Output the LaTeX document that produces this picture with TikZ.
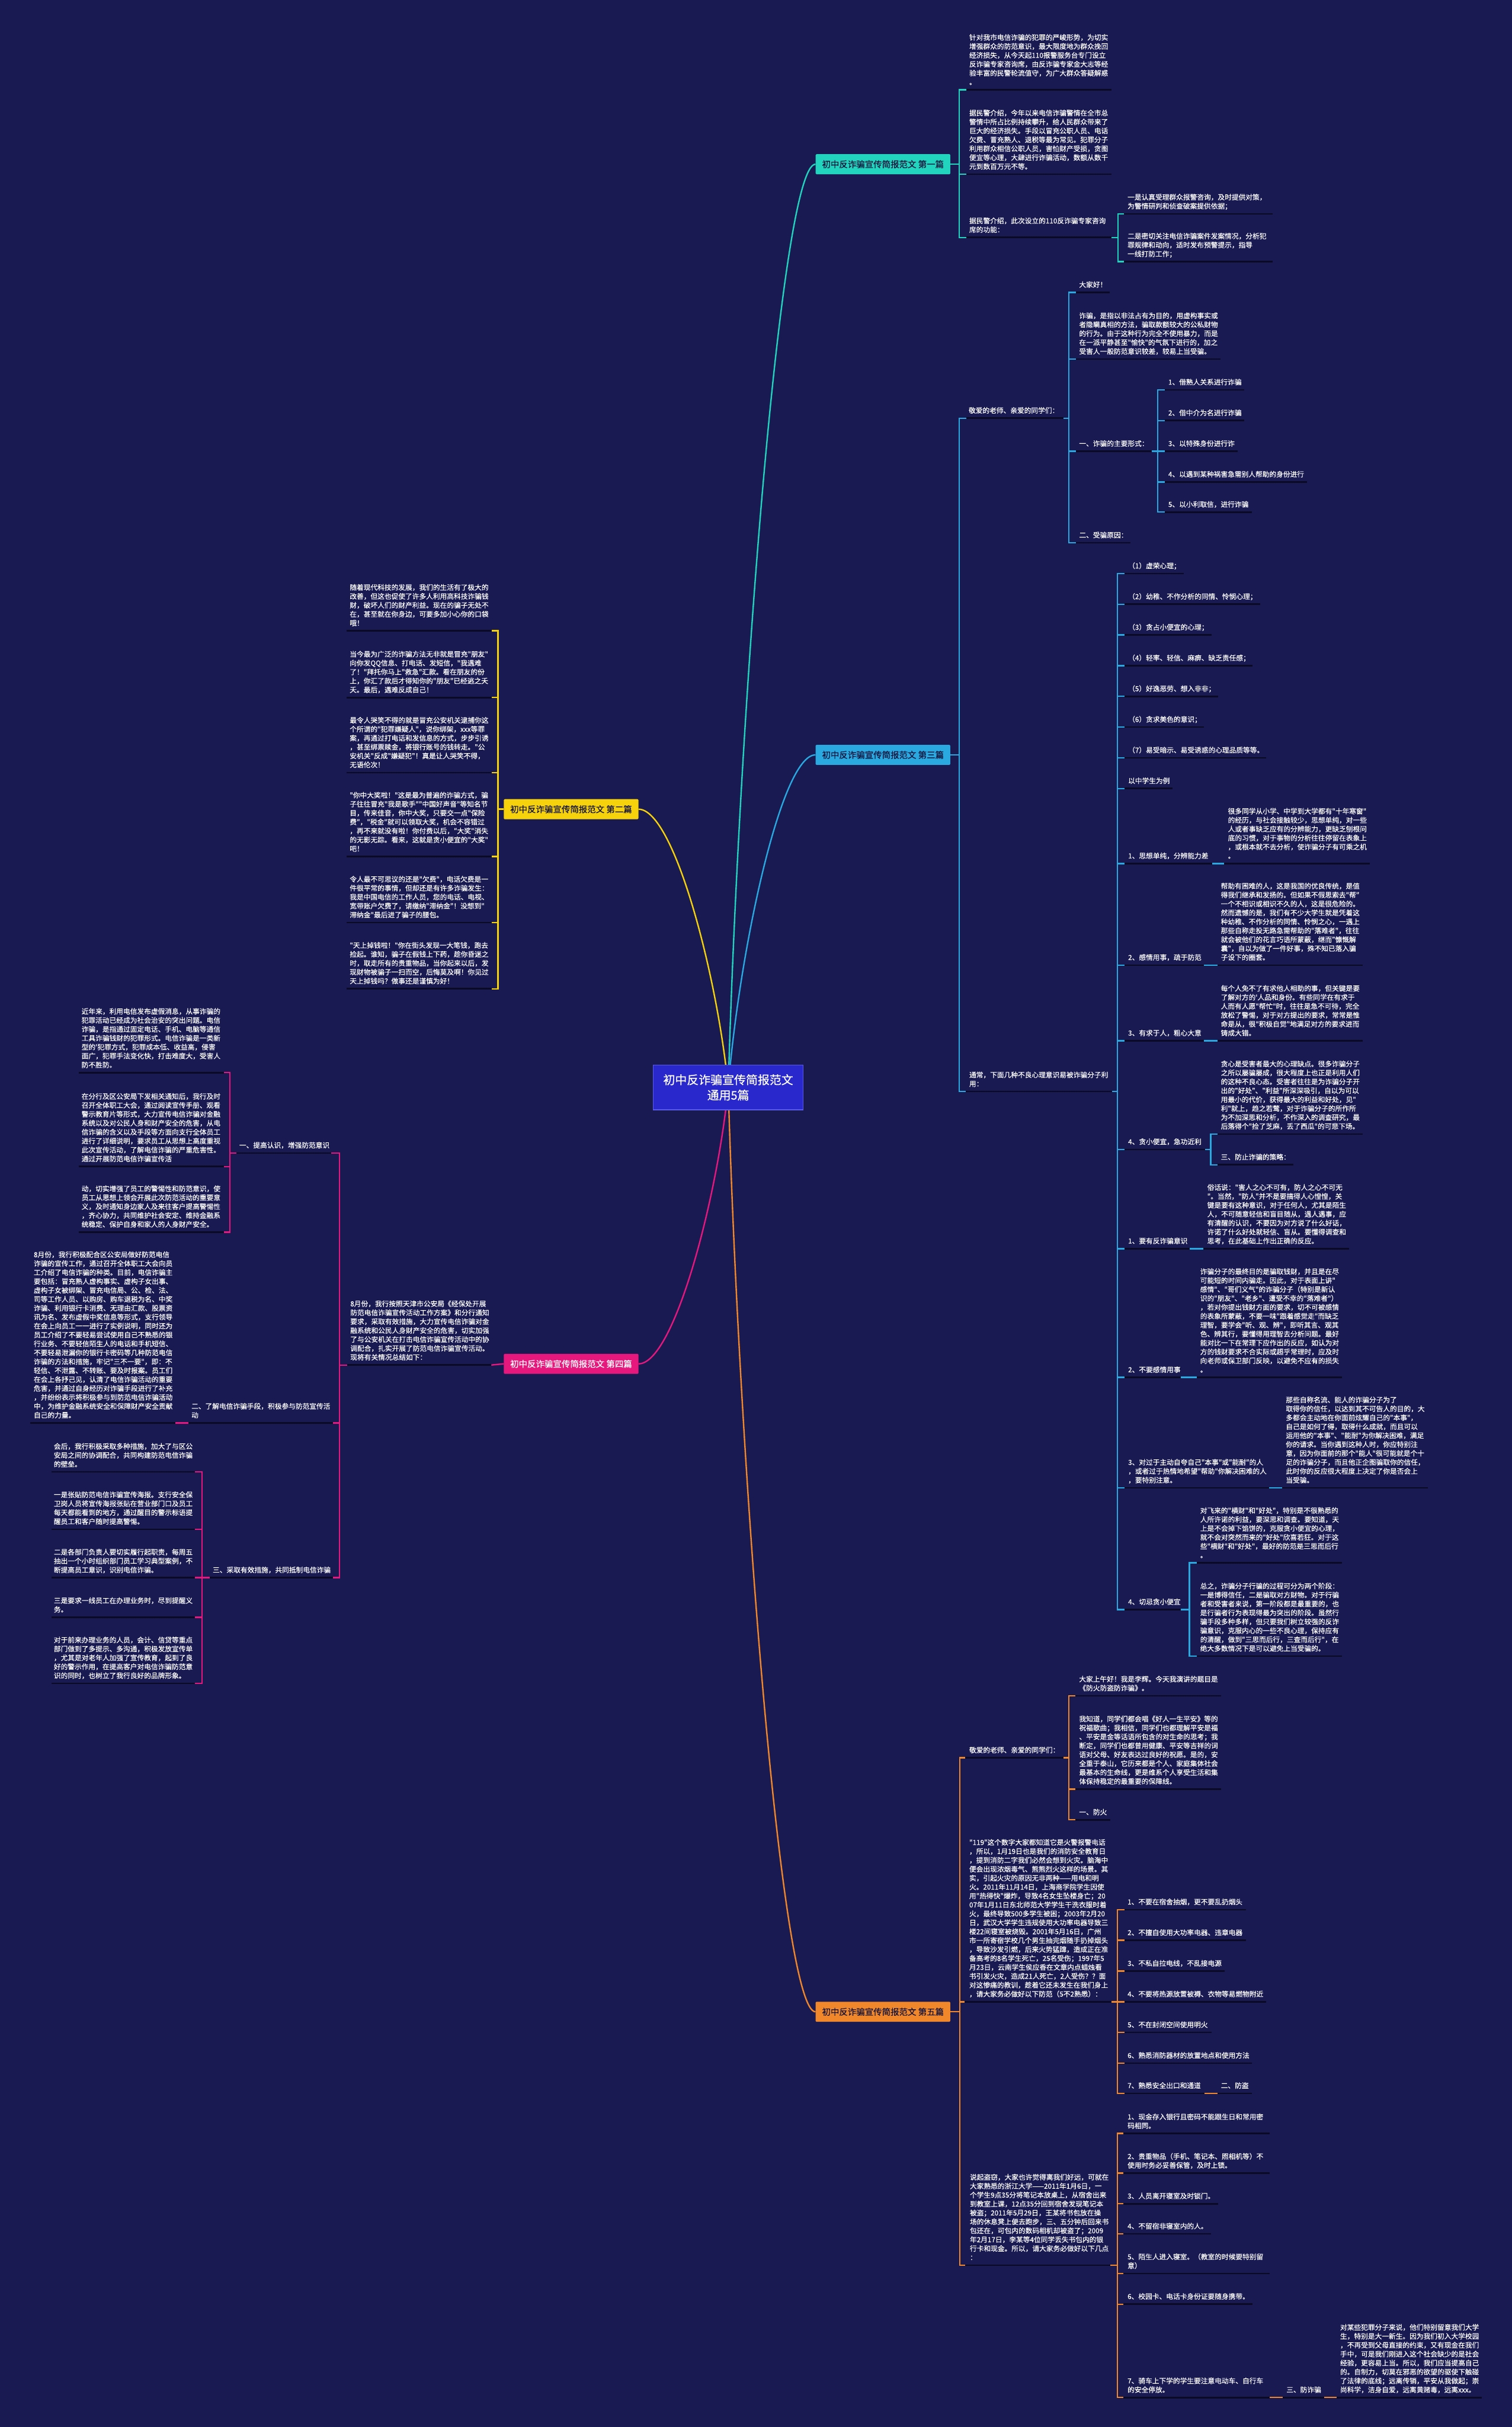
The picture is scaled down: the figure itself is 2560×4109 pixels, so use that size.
\documentclass[tikz,border=0pt]{standalone}
\usepackage{fontspec}
\setmainfont{Noto Sans CJK SC}
\newfontfamily\leaffont{Noto Sans CJK SC}[FakeBold=0.5]
\definecolor{bg}{RGB}{25,26,82}
\definecolor{ulc}{RGB}{10,10,36}
\definecolor{colA}{RGB}{34,212,190}
\definecolor{colB}{RGB}{42,168,224}
\definecolor{colC}{RGB}{246,210,12}
\definecolor{colD}{RGB}{230,24,125}
\definecolor{colE}{RGB}{240,135,42}
\definecolor{cent}{RGB}{40,40,205}
\definecolor{labtxt}{RGB}{20,20,60}
\newcommand{\fsm}{\leaffont\fontsize{11.75}{15.1}\selectfont}
\newcommand{\mmleaf}[6]{%
  \coordinate (#1-l) at (#4,#3);
  \coordinate (#1-r) at (#5,#3);
  \draw[uline] (#1-l) -- (#1-r);
  \node[txt] (#1) at (#2,#3-4) {#6\strut};
}
\newcommand{\mmkids}[3]{\foreach \k in {#3}{\draw[#1] (#2) |- (\k);}}
\tikzset{
  txt/.style={anchor=south west, inner sep=0pt, align=left, text=white, font=\fsm},
  uline/.style={draw=ulc, line width=2.6pt},
  cA/.style={draw=colA, line width=2.4pt},
  cB/.style={draw=colB, line width=2.4pt},
  cC/.style={draw=colC, line width=2.4pt},
  cD/.style={draw=colD, line width=2.4pt},
  cE/.style={draw=colE, line width=2.4pt},
  lab/.style={minimum width=228pt, minimum height=34pt, inner sep=0pt, rounded corners=1.5pt, font=\leaffont\fontsize{14.5}{17}\selectfont},
}
\begin{document}
\begin{tikzpicture}[x=1pt,y=-1pt]
\fill[bg] (0,0) rectangle (2560,4109);
\useasboundingbox (0,0) rectangle (2560,4109);

% ---------- central and labels ----------
\coordinate (C0) at (1233,1841);
\node[lab, fill=colA, text=labtxt] (L1) at (1495,278) {初中反诈骗宣传简报范文 第一篇};
\node[lab, fill=colB, text=labtxt] (L3) at (1495,1278) {初中反诈骗宣传简报范文 第三篇};
\node[lab, fill=colE, text=labtxt] (L5) at (1495,3406) {初中反诈骗宣传简报范文 第五篇};
\node[lab, fill=colC, text=labtxt] (L2) at (967,1370) {初中反诈骗宣传简报范文 第二篇};
\node[lab, fill=colD, text=white] (L4) at (967,2309) {初中反诈骗宣传简报范文 第四篇};

\draw[cA] (C0) .. controls +(18,-625) and +(-59,0) .. (L1.west);
\draw[cB] (C0) .. controls +(18,-225) and +(-59,0) .. (L3.west);
\draw[cE] (C0) .. controls +(18,626) and +(-59,0) .. (L5.west);
\draw[cC] (C0) .. controls +(-18,-188) and +(60,0) .. (L2.east);
\draw[cD] (C0) .. controls +(-18,187) and +(60,0) .. (L4.east);

\node[fill=cent, draw={rgb,255:red,90;green,90;blue,235}, line width=1.2pt, minimum width=254pt, minimum height=76pt, align=center, text=white, font=\leaffont\fontsize{20}{26}\selectfont] (C) at (C0) {初中反诈骗宣传简报范文\\通用5篇};

% ---------- Branch 1 ----------
\coordinate (L1-b) at (1624,278);
\draw[cA] (L1.east) -- (L1-b);
\mmleaf{a1}{1641}{152}{1636}{1882}{针对我市电信诈骗的犯罪的严峻形势，为切实\\增强群众的防范意识，最大限度地为群众挽回\\经济损失，从今天起110报警服务台专门设立\\反诈骗专家咨询席，由反诈骗专家金大志等经\\验丰富的民警轮流值守，为广大群众答疑解惑\\。}
\mmleaf{a2}{1641}{295}{1636}{1882}{据民警介绍，今年以来电信诈骗警情在全市总\\警情中所占比例持续攀升，给人民群众带来了\\巨大的经济损失。手段以冒充公职人员、电话\\欠费、冒充熟人、退税等最为常见。犯罪分子\\利用群众相信公职人员，害怕财产受损，贪图\\便宜等心理，大肆进行诈骗活动，数额从数千\\元到数百万元不等。}
\mmleaf{a3}{1641}{402}{1636}{1882}{据民警介绍，此次设立的110反诈骗专家咨询\\席的功能：}
\mmkids{cA}{L1-b}{a1-l,a2-l,a3-l}
\coordinate (a3-b) at (1893,402);
\draw[cA] (a3-r) -- (a3-b);
\mmleaf{a31}{1909}{362}{1903}{2155}{一是认真受理群众报警咨询，及时提供对策，\\为警情研判和侦查破案提供依据；}
\mmleaf{a32}{1909}{443}{1903}{2155}{二是密切关注电信诈骗案件发案情况，分析犯\\罪规律和动向，适时发布预警提示，指导\\一线打防工作；}
\mmkids{cA}{a3-b}{a31-l,a32-l}

% ---------- Branch 3 ----------
\coordinate (L3-b) at (1624,1278);
\draw[cB] (L3.east) -- (L3-b);
\mmleaf{b1}{1640}{708}{1636}{1801}{敬爱的老师、亲爱的同学们：}
\coordinate (b1-b) at (1810,708);
\draw[cB] (b1-r) -- (b1-b);
\mmleaf{b11}{1827}{495}{1822}{1879}{大家好！}
\mmleaf{b12}{1827}{608}{1822}{2067}{诈骗，是指以非法占有为目的，用虚构事实或\\者隐瞒真相的方法，骗取款额较大的公私财物\\的行为。由于这种行为完全不使用暴力，而是\\在一派平静甚至"愉快"的气氛下进行的，加之\\受害人一般防范意识较差，较易上当受骗。}
\mmleaf{b13}{1827}{764}{1822}{1950}{一、诈骗的主要形式：}
\mmleaf{b14}{1827}{919}{1822}{1914}{二、受骗原因：}
\mmkids{cB}{b1-b}{b11-l,b12-l,b13-l,b14-l}
\coordinate (b13-b) at (1960,764);
\draw[cB] (b13-r) -- (b13-b);
\mmleaf{b131}{1978}{660}{1972}{2107}{1、借熟人关系进行诈骗}
\mmleaf{b132}{1978}{712}{1972}{2107}{2、借中介为名进行诈骗}
\mmleaf{b133}{1978}{764}{1972}{2096}{3、以特殊身份进行诈}
\mmleaf{b134}{1978}{816}{1972}{2213}{4、以遇到某种祸害急需别人帮助的身份进行}
\mmleaf{b135}{1978}{867}{1972}{2120}{5、以小利取信，进行诈骗}
\mmkids{cB}{b13-b}{b131-l,b132-l,b133-l,b134-l,b135-l}

\mmleaf{b2}{1641}{1848}{1635}{1883}{通常，下面几种不良心理意识易被诈骗分子利\\用：}
\coordinate (b2-b) at (1892,1848);
\draw[cB] (b2-r) -- (b2-b);
\mmkids{cB}{L3-b}{b1-l,b2-l}
\mmleaf{c1}{1910}{971}{1904}{2004}{（1）虚荣心理；}
\mmleaf{c2}{1910}{1023}{1904}{2134}{（2）幼稚、不作分析的同情、怜悯心理；}
\mmleaf{c3}{1910}{1075}{1904}{2051}{（3）贪占小便宜的心理；}
\mmleaf{c4}{1910}{1127}{1904}{2121}{（4）轻率、轻信、麻痹、缺乏责任感；}
\mmleaf{c5}{1910}{1179}{1904}{2062}{（5）好逸恶劳、想入非非；}
\mmleaf{c6}{1910}{1231}{1904}{2038}{（6）贪求美色的意识；}
\mmleaf{c7}{1910}{1283}{1904}{2144}{（7）易受暗示、易受诱惑的心理品质等等。}
\mmleaf{c8}{1910}{1335}{1904}{1985}{以中学生为例}
\mmleaf{c9}{1910}{1462}{1904}{2052}{1、思想单纯，分辨能力差}
\mmleaf{c9a}{2079}{1462}{2073}{2319}{很多同学从小学、中学到大学都有"十年寒窗"\\的经历，与社会接触较少，思想单纯，对一些\\人或者事缺乏应有的分辨能力，更缺乏刨根问\\底的习惯，对于事物的分析往往停留在表象上\\，或根本就不去分析，使诈骗分子有可乘之机\\。}
\draw[cB] (c9-r) -- (c9a-l);
\mmleaf{c10}{1910}{1634}{1904}{2038}{2、感情用事，疏于防范}
\mmleaf{c10a}{2067}{1634}{2061}{2307}{帮助有困难的人，这是我国的优良传统，是值\\得我们继承和发扬的。但如果不假思索去"帮"\\一个不相识或相识不久的人，这是很危险的。\\然而遗憾的是，我们有不少大学生就是凭着这\\种幼稚、不作分析的同情、怜悯之心，一遇上\\那些自称走投无路急需帮助的"落难者"，往往\\就会被他们的花言巧语所蒙蔽，继而"慷慨解\\囊"，自以为做了一件好事，殊不知已落入骗\\子设下的圈套。}
\draw[cB] (c10-r) -- (c10a-l);
\mmleaf{c11}{1910}{1762}{1904}{2038}{3、有求于人，粗心大意}
\mmleaf{c11a}{2067}{1762}{2061}{2307}{每个人免不了有求他人相助的事，但关键是要\\了解对方的'人品和身份。有些同学在有求于\\人而有人愿"帮忙"时，往往是急不可待，完全\\放松了警惕，对于对方提出的要求，常常是惟\\命是从，很"积极自觉"地满足对方的要求进而\\铸成大错。}
\draw[cB] (c11-r) -- (c11a-l);
\mmleaf{c12}{1910}{1946}{1904}{2040}{4、贪小便宜，急功近利}
\coordinate (c12-b) at (2050,1946);
\draw[cB] (c12-r) -- (c12-b);
\mmleaf{c12a}{2067}{1920}{2061}{2307}{贪心是受害者最大的心理缺点。很多诈骗分子\\之所以屡骗屡成，很大程度上也正是利用人们\\的这种不良心态。受害者往往是为诈骗分子开\\出的"好处"、"利益"所深深吸引，自以为可以\\用最小的代价，获得最大的利益和好处，见"\\利"就上，趋之若鹜，对于诈骗分子的所作所\\为不加深思和分析，不作深入的调查研究，最\\后落得个"捡了芝麻，丢了西瓜"的可悲下场。}
\mmleaf{c12b}{2067}{1972}{2061}{2190}{三、防止诈骗的策略：}
\mmkids{cB}{c12-b}{c12a-l,c12b-l}
\mmleaf{c13}{1910}{2114}{1904}{2014}{1、要有反诈骗意识}
\mmleaf{c13a}{2044}{2114}{2037}{2284}{俗话说："害人之心不可有，防人之心不可无\\"。当然，"防人"并不是要搞得人心惶惶，关\\键是要有这种意识，对于任何人，尤其是陌生\\人，不可随意轻信和盲目随从，遇人遇事，应\\有清醒的认识，不要因为对方说了什么好话，\\许诺了什么好处就轻信、盲从。要懂得调查和\\思考，在此基础上作出正确的反应。}
\draw[cB] (c13-r) -- (c13a-l);
\mmleaf{c14}{1910}{2332}{1904}{1999}{2、不要感情用事}
\mmleaf{c14a}{2032}{2332}{2026}{2272}{诈骗分子的最终目的是骗取钱财，并且是在尽\\可能短的时间内骗走。因此，对于表面上讲"\\感情"、"哥们义气"的诈骗分子（特别是新认\\识的"朋友"、"老乡"、遭受不幸的"落难者"）\\，若对你提出钱财方面的要求，切不可被感情\\的表象所蒙蔽，不要一味"跟着感觉走"而缺乏\\理智，要学会"听、观、辨"，即听其言、观其\\色、辨其行，要懂得用理智去分析问题。最好\\能对比一下在常理下应作出的反应，如认为对\\方的钱财要求不合实际或超乎常理时，应及时\\向老师或保卫部门反映，以避免不应有的损失\\。}
\draw[cB] (c14-r) -- (c14a-l);
\mmleaf{c15}{1910}{2519}{1904}{2149}{3、对过于主动自夸自己"本事"或"能耐"的人\\，或者过于热情地希望"帮助"你解决困难的人\\，要特别注意。}
\mmleaf{c15a}{2177}{2519}{2171}{2418}{那些自称名流、能人的诈骗分子为了\\取得你的信任，以达到其不可告人的目的，大\\多都会主动地在你面前炫耀自己的"本事"，\\自己是如何了得，取得什么成就，而且可以\\运用他的"本事"、"能耐"为你解决困难，满足\\你的请求。当你遇到这种人时，你应特别注\\意，因为你面前的那个"能人"很可能就是个十\\足的诈骗分子，而且他正企图骗取你的信任，\\此时你的反应很大程度上决定了你是否会上\\当受骗。}
\draw[cB] (c15-r) -- (c15a-l);
\mmleaf{c16}{1910}{2725}{1904}{1999}{4、切忌贪小便宜}
\coordinate (c16-b) at (2014,2725);
\draw[cB] (c16-r) -- (c16-b);
\mmleaf{c16a}{2032}{2646}{2026}{2272}{对飞来的"横财"和"好处"，特别是不很熟悉的\\人所许诺的利益，要深思和调查。要知道，天\\上是不会掉下馅饼的，克服贪小便宜的心理，\\就不会对突然而来的"好处"欣喜若狂。对于这\\些"横财"和"好处"，最好的防范是三思而后行\\。}
\mmleaf{c16b}{2032}{2804}{2026}{2272}{总之，诈骗分子行骗的过程可分为两个阶段：\\一是博得信任，二是骗取对方财物。对于行骗\\者和受害者来说，第一阶段都是最重要的，也\\是行骗者行为表现得最为突出的阶段。虽然行\\骗手段多种多样，但只要我们树立较强的反诈\\骗意识，克服内心的一些不良心理，保持应有\\的清醒，做到"三思而后行，三查而后行"，在\\绝大多数情况下是可以避免上当受骗的。}
\mmkids{cB}{c16-b}{c16a-l,c16b-l}
\mmkids{cB}{b2-b}{c1-l,c2-l,c3-l,c4-l,c5-l,c6-l,c7-l,c8-l,c9-l,c10-l,c11-l,c12-l,c13-l,c14-l,c15-l,c16-l}

% ---------- Branch 5 ----------
\coordinate (L5-b) at (1625,3406);
\draw[cE] (L5.east) -- (L5-b);
\mmleaf{e1}{1641}{2976}{1634}{1801}{敬爱的老师、亲爱的同学们：}
\coordinate (e1-b) at (1810,2976);
\draw[cE] (e1-r) -- (e1-b);
\mmleaf{e11}{1827}{2871}{1821}{2068}{大家上午好！我是李辉。今天我演讲的题目是\\《防火防盗防诈骗》。}
\mmleaf{e12}{1827}{3029}{1821}{2068}{我知道，同学们都会唱《好人一生平安》等的\\祝福歌曲；我相信，同学们也都理解平安是福\\、平安是金等话语所包含的对生命的思考；我\\断定，同学们也都曾用健康、平安等吉祥的词\\语对父母、好友表达过良好的祝愿。是的，安\\全重于泰山，它历来都是个人、家庭集体社会\\最基本的生命线，更是维系个人享受生活和集\\体保持稳定的最重要的保障线。}
\mmleaf{e13}{1827}{3081}{1821}{1880}{一、防火}
\mmkids{cE}{e1-b}{e11-l,e12-l,e13-l}
\mmleaf{e2}{1641}{3389}{1633}{1882}{"119"这个数字大家都知道它是火警报警电话\\，所以，1月19日也是我们的消防安全教育日\\，提到消防二字我们必然会想到火灾。脑海中\\便会出现浓烟毒气、熊熊烈火这样的场景。其\\实，引起火灾的原因无非两种——用电和明\\火。2011年11月14日，上海商学院学生因使\\用"热得快"爆炸，导致4名女生坠楼身亡；20\\07年1月11日东北师范大学学生干洗衣服时着\\火，最终导致500多学生被困；2003年2月20\\日，武汉大学学生违规使用大功率电器导致三\\楼22间寝室被烧毁。2001年5月16日，广州\\市一所寄宿学校几个男生抽完烟随手扔掉烟头\\，导致沙发引燃，后来火势猛蹿，造成正在准\\备高考的8名学生死亡，25名受伤；1997年5\\月23日，云南学生侯应香在文章内点蜡烛看\\书引发火灾，造成21人死亡，2人受伤？？面\\对这惨痛的教训，趁着它还未发生在我们身上\\，请大家务必做好以下防范（5不2熟悉）：}
\coordinate (e2-b) at (1892,3389);
\draw[cE] (e2-r) -- (e2-b);
\mmleaf{e21}{1909}{3233}{1904}{2110}{1、不要在宿舍抽烟，更不要乱扔烟头}
\mmleaf{e22}{1909}{3285}{1904}{2110}{2、不擅自使用大功率电器、违章电器}
\mmleaf{e23}{1909}{3337}{1904}{2074}{3、不私自拉电线，不乱接电源}
\mmleaf{e24}{1909}{3389}{1904}{2144}{4、不要将热源放置被褥、衣物等易燃物附近}
\mmleaf{e25}{1909}{3441}{1904}{2051}{5、不在封闭空间使用明火}
\mmleaf{e26}{1909}{3493}{1904}{2120}{6、熟悉消防器材的放置地点和使用方法}
\mmleaf{e27}{1909}{3544}{1904}{2039}{7、熟悉安全出口和通道}
\mmleaf{e27a}{2067}{3544}{2061}{2120}{二、防盗}
\draw[cE] (e27-r) -- (e27a-l);
\mmkids{cE}{e2-b}{e21-l,e22-l,e23-l,e24-l,e25-l,e26-l,e27-l}
\mmleaf{e3}{1642}{3835}{1634}{1880}{说起盗窃，大家也许觉得离我们好远，可就在\\大家熟悉的浙江大学——2011年1月6日，一\\个学生9点35分将笔记本放桌上，从宿舍出来\\到教室上课，12点35分回到宿舍发现笔记本\\被盗；2011年5月29日，王某将书包放在操\\场的休息凳上便去跑步，三、五分钟后回来书\\包还在，可包内的数码相机却被盗了；2009\\年2月17日，李某等4位同学丢失书包内的银\\行卡和现金。所以，请大家务必做好以下几点\\：}
\coordinate (e3-b) at (1892,3835);
\draw[cE] (e3-r) -- (e3-b);
\mmleaf{e31}{1909}{3612}{1902}{2150}{1、现金存入银行且密码不能跟生日和常用密\\码相同。}
\mmleaf{e32}{1909}{3679}{1902}{2150}{2、贵重物品（手机、笔记本、照相机等）不\\使用时务必妥善保管，及时上锁。}
\mmleaf{e33}{1909}{3731}{1902}{2062}{3、人员离开寝室及时锁门。}
\mmleaf{e34}{1909}{3782}{1902}{2050}{4、不留宿非寝室内的人。}
\mmleaf{e35}{1909}{3849}{1902}{2150}{5、陌生人进入寝室。（教室的时候要特别留\\意）}
\mmleaf{e36}{1909}{3901}{1902}{2121}{6、校园卡、电话卡身份证要随身携带。}
\mmleaf{e37}{1909}{4059}{1902}{2150}{7、骑车上下学的学生要注意电动车、自行车\\的安全停放。}
\mmleaf{e37a}{2178}{4059}{2172}{2242}{三、防诈骗}
\draw[cE] (e37-r) -- (e37a-l);
\mmleaf{e37b}{2269}{4059}{2263}{2509}{对某些犯罪分子来说，他们特别留意我们大学\\生，特别是大一新生。因为我们初入大学校园\\，不再受到父母直接的约束，又有现金在我们\\手中，可是我们刚进入这个社会缺少的是社会\\经验，更容易上当。所以，我们应当提高自己\\的。自制力，切莫在邪恶的欲望的驱使下触碰\\了法律的底线；远离传销，平安从我做起；崇\\尚科学，洁身自爱，远离黄赌毒，远离xxx。}
\draw[cE] (e37a-r) -- (e37b-l);
\mmkids{cE}{e3-b}{e31-l,e32-l,e33-l,e34-l,e35-l,e36-l,e37-l}
\mmkids{cE}{L5-b}{e1-l,e2-l,e3-l}

% ---------- Branch 2 ----------
\coordinate (L2-b) at (843,1370);
\draw[cC] (L2.west) -- (L2-b);
\mmleaf{d1}{592}{1068}{587}{833}{随着现代科技的发展，我们的生活有了极大的\\改善，但这也促使了许多人利用高科技诈骗钱\\财，破坏人们的财产利益。现在的骗子无处不\\在，甚至就在你身边，可要多加小心你的口袋\\哦！}
\mmleaf{d2}{592}{1181}{587}{833}{当今最为广泛的诈骗方法无非就是冒充"朋友"\\向你发QQ信息、打电话、发短信，"我遇难\\了！"拜托你马上"救急"汇款。看在朋友的份\\上，你汇了款后才得知你的"朋友"已经逃之夭\\夭。最后，遇难反成自己！}
\mmleaf{d3}{592}{1308}{587}{833}{最令人哭笑不得的就是冒充公安机关逮捕你这\\个所谓的"犯罪嫌疑人"，说你绑架，xxx等罪\\案，再通过打电话和发信息的方式，步步引诱\\，甚至绑票赎金，将银行账号的钱转走。"公\\安机关"反成"嫌疑犯"！真是让人哭笑不得，\\无语伦次！}
\mmleaf{d4}{592}{1450}{587}{833}{"你中大奖啦！"这是最为普遍的诈骗方式，骗\\子往往冒充"我是歌手""中国好声音"等知名节\\目，传来佳音，你中大奖，只要交一点"保险\\费"，"税金"就可以领取大奖，机会不容错过\\，再不来就没有啦！你付费以后，"大奖"消失\\的无影无踪。看来，这就是贪小便宜的"大奖"\\吧！}
\mmleaf{d5}{592}{1562}{587}{833}{令人最不可思议的还是"欠费"，电话欠费是一\\件很平常的事情，但却还是有许多诈骗发生：\\我是中国电信的工作人员，您的电话、电视、\\宽带账户欠费了，请缴纳"滞纳金"！没想到"\\滞纳金"最后进了骗子的腰包。}
\mmleaf{d6}{592}{1674}{587}{833}{"天上掉钱啦！"你在街头发现一大笔钱，跑去\\捡起。谁知，骗子在假钱上下药，趁你昏迷之\\时，取走所有的贵重物品，当你起来以后，发\\现财物被骗子一扫而空，后悔莫及啊！你见过\\天上掉钱吗？做事还是谨慎为好！}
\mmkids{cC}{L2-b}{d1-r,d2-r,d3-r,d4-r,d5-r,d6-r}

% ---------- Branch 4 ----------
\mmleaf{f0}{593}{2311}{588}{832}{8月份，我行按照天津市公安局《经保处开展\\防范电信诈骗宣传活动工作方案》和分行通知\\要求，采取有效措施，大力宣传电信诈骗对金\\融系统和公民人身财产安全的危害，切实加强\\了与公安机关在打击电信诈骗宣传活动中的协\\调配合，扎实开展了防范电信诈骗宣传活动。\\现将有关情况总结如下：}
\draw[cD] (L4.west) -- (f0-r);
\coordinate (f0-b) at (575,2311);
\draw[cD] (f0-l) -- (f0-b);
\mmleaf{f1}{405}{1952}{400}{561}{一、提高认识，增强防范意识}
\coordinate (f1-b) at (389,1952);
\draw[cD] (f1-l) -- (f1-b);
\mmleaf{f11}{138}{1816}{133}{379}{近年来，利用电信发布虚假消息，从事诈骗的\\犯罪活动已经成为社会治安的突出问题。电信\\诈骗，是指通过固定电话、手机、电脑等通信\\工具诈骗钱财的犯罪形式。电信诈骗是一类新\\型的'犯罪方式，犯罪成本低、收益高，侵害\\面广，犯罪手法变化快，打击难度大，受害人\\防不胜防。}
\mmleaf{f12}{138}{1975}{133}{379}{在分行及区公安局下发相关通知后，我行及时\\召开全体职工大会，通过阅读宣传手册、观看\\警示教育片等形式，大力宣传电信诈骗对金融\\系统以及对公民人身和财产安全的危害，从电\\信诈骗的含义以及手段等方面向支行全体员工\\进行了详细说明，要求员工从思想上高度重视\\此次宣传活动，了解电信诈骗的严重危害性。\\通过开展防范电信诈骗宣传活}
\mmleaf{f13}{138}{2086}{133}{379}{动，切实增强了员工的警惕性和防范意识，使\\员工从思想上领会开展此次防范活动的重要意\\义，及时通知身边家人及来往客户提高警惕性\\，齐心协力，共同维护社会安定、维持金融系\\统稳定、保护自身和家人的人身财产安全。}
\mmkids{cD}{f1-b}{f11-r,f12-r,f13-r}
\mmleaf{f2}{324}{2409}{319}{564}{二、了解电信诈骗手段，积极参与防范宣传活\\动}
\mmleaf{f2a}{57}{2409}{51}{297}{8月份，我行积极配合区公安局做好防范电信\\诈骗的宣传工作，通过召开全体职工大会向员\\工介绍了电信诈骗的种类。目前，电信诈骗主\\要包括：冒充熟人虚构事实、虚构子女出事、\\虚构子女被绑架、冒充电信局、公、检、法、\\司等工作人员、以购房、购车退税为名、中奖\\诈骗、利用银行卡消费、无理由汇款、股票资\\讯为名、发布虚假中奖信息等形式，支行领导\\在会上向员工一一进行了实例说明，同时还为\\员工介绍了不要轻易尝试使用自己不熟悉的银\\行业务、不要轻信陌生人的电话和手机短信、\\不要轻易泄漏你的银行卡密码等几种防范电信\\诈骗的方法和措施，牢记"三不一要"，即：不\\轻信、不泄露、不转账、要及时报案。员工们\\在会上各抒己见，认清了电信诈骗活动的重要\\危害，并通过自身经历对诈骗手段进行了补充\\，并纷纷表示将积极参与到防范电信诈骗活动\\中，为维护金融系统安全和保障财产安全贡献\\自己的力量。}
\draw[cD] (f2-l) -- (f2a-r);
\mmleaf{f3}{360}{2671}{355}{564}{三、采取有效措施，共同抵制电信诈骗}
\coordinate (f3-b) at (342,2671);
\draw[cD] (f3-l) -- (f3-b);
\mmleaf{f31}{91}{2492}{87}{330}{会后，我行积极采取多种措施，加大了与区公\\安局之间的协调配合，共同构建防范电信诈骗\\的壁垒。}
\mmleaf{f32}{91}{2589}{87}{330}{一是张贴防范电信诈骗宣传海报。支行安全保\\卫岗人员将宣传海报张贴在营业部门口及员工\\每天都能看到的地方，通过醒目的警示标语提\\醒员工和客户随时提高警惕。}
\mmleaf{f33}{91}{2671}{87}{330}{二是各部门负责人要切实履行起职责，每周五\\抽出一个小时组织部门员工学习典型案例，不\\断提高员工意识，识别电信诈骗。}
\mmleaf{f34}{91}{2738}{87}{330}{三是要求一线员工在办理业务时，尽到提醒义\\务。}
\mmleaf{f35}{91}{2850}{87}{330}{对于前来办理业务的人员，会计、信贷等重点\\部门做到了多提示、多沟通，积极发放宣传单\\，尤其是对老年人加强了宣传教育，起到了良\\好的警示作用，在提高客户对电信诈骗防范意\\识的同时，也树立了我行良好的品牌形象。}
\mmkids{cD}{f3-b}{f31-r,f32-r,f33-r,f34-r,f35-r}
\mmkids{cD}{f0-b}{f1-r,f2-r,f3-r}
\end{tikzpicture}
\end{document}
